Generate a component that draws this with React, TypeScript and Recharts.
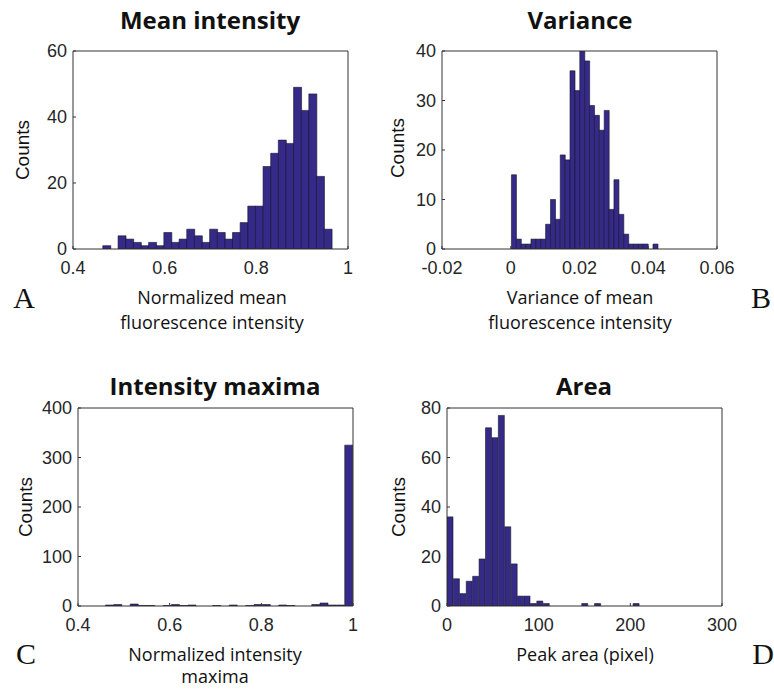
import React from 'react';
import { BarChart, Bar, XAxis, YAxis } from 'recharts';

// histogram counts, 30 bins each
const meanCounts = [1, 0, 4, 3, 2, 1, 2, 1, 5, 2, 3, 6, 4, 2, 6, 5, 3, 5, 8, 13, 13, 25, 29, 33, 32, 49, 42, 47, 22, 6];
const meanBinStart = 0.465;
const meanBinWidth = 0.01665;
const meanXTicks = [0.4, 0.6, 0.8, 1];
const meanYTicks = [0, 20, 40, 60];

const varCounts = [15, 2, 1, 1, 2, 2, 2, 5, 10, 6, 19, 18, 36, 32, 40, 38, 29, 27, 24, 28, 8, 14, 7, 3, 1, 1, 1, 1, 0, 1];
const varBinStart = 0.0002;
const varBinWidth = 0.00142;
const varXTicks = [-0.02, 0, 0.02, 0.04, 0.06];
const varYTicks = [0, 10, 20, 30, 40];

const maxCounts = [2, 3, 0, 4, 1, 1, 0, 1, 3, 1, 2, 0, 0, 1, 0, 2, 0, 1, 3, 3, 0, 2, 1, 0, 0, 3, 6, 2, 2, 325];
const maxBinStart = 0.46;
const maxBinWidth = 0.018;
const maxXTicks = [0.4, 0.6, 0.8, 1];
const maxYTicks = [0, 100, 200, 300, 400];

const areaCounts = [36, 11, 5, 10, 12, 19, 72, 68, 77, 32, 17, 4, 4, 1, 2, 1, 0, 0, 0, 0, 0, 1, 0, 1, 0, 0, 0, 0, 0, 1];
const areaBinStart = 0;
const areaBinWidth = 7;
const areaXTicks = [0, 100, 200, 300];
const areaYTicks = [0, 20, 40, 60, 80];

const toBins = (counts: number[], start: number, width: number) =>
    counts.map((c, i) => ({ x: start + (i + 0.5) * width, count: c }));

const AXIS = '#333333';
const BAR = '#352A87';
const tickFont = 'Liberation Sans, Arial, sans-serif';
const tickStyle = { fill: '#262626', fontSize: 18, fontFamily: tickFont };
const labelFont = "'Open Sans', 'Noto Sans', sans-serif";

interface PanelProps {
    data: { x: number, count: number }[],
    xTicks: number[],
    yTicks: number[],
    left: number,
    top: number
}

// MATLAB style box: ticks point inwards on all four sides
const Panel: React.FC<PanelProps> = ({ data, xTicks, yTicks, left, top }) => {
    const xDomain = [xTicks[0], xTicks[xTicks.length - 1]];
    const yDomain = [yTicks[0], yTicks[yTicks.length - 1]];
    return (
        <div style={{ position: 'absolute', left, top }}>
            <BarChart width={355} height={238} data={data} margin={{ top: 9, right: 29, left: 0, bottom: 0 }}
                barCategoryGap={0} barGap={0} style={{ overflow: 'visible' }}>
                <XAxis dataKey="x" type="number" domain={xDomain} ticks={xTicks} interval={0} allowDataOverflow
                    height={30} tickSize={-3} tickMargin={15} stroke={AXIS} tick={tickStyle} />
                <XAxis xAxisId="top" orientation="top" dataKey="x" type="number" domain={xDomain} ticks={xTicks}
                    interval={0} allowDataOverflow height={1} tick={false} tickSize={-3} stroke={AXIS} />
                <YAxis type="number" domain={yDomain} ticks={yTicks} interval={0} allowDataOverflow
                    width={50} tickSize={-3} tickMargin={9} stroke={AXIS} tick={tickStyle} />
                <YAxis yAxisId="right" orientation="right" type="number" domain={yDomain} ticks={yTicks}
                    interval={0} allowDataOverflow width={1} tick={false} tickSize={-3} stroke={AXIS} />
                <Bar dataKey="count" fill={BAR} stroke="#15152a" strokeWidth={0.6} isAnimationActive={false} />
            </BarChart>
        </div>
    );
};

const Txt: React.FC<{ x: number, y: number, size: number, bold?: boolean, font?: string, rotate?: boolean, children: React.ReactNode }> =
    ({ x, y, size, bold, font, rotate, children }) => (
        <div style={{
            position: 'absolute', left: x, top: y, whiteSpace: 'nowrap', fontSize: size, lineHeight: 1,
            fontWeight: bold ? 700 : 400, fontFamily: font || labelFont, color: '#111',
            transform: `translate(-50%, -50%)${rotate ? ' rotate(-90deg)' : ''}`
        }}>{children}</div>
    );

export default function App() {
    return (
        <div style={{ position: 'absolute', left: 0, top: 0, width: 774, height: 690, background: '#fff', overflow: 'hidden' }}>
            <Panel data={toBins(meanCounts, meanBinStart, meanBinWidth)} xTicks={meanXTicks} yTicks={meanYTicks} left={23} top={41} />
            <Panel data={toBins(varCounts, varBinStart, varBinWidth)} xTicks={varXTicks} yTicks={varYTicks} left={392} top={41} />
            <Panel data={toBins(maxCounts, maxBinStart, maxBinWidth)} xTicks={maxXTicks} yTicks={maxYTicks} left={28} top={398} />
            <Panel data={toBins(areaCounts, areaBinStart, areaBinWidth)} xTicks={areaXTicks} yTicks={areaYTicks} left={397} top={398} />

            <Txt x={210} y={20} size={24} bold>Mean intensity</Txt>
            <Txt x={580} y={20} size={24} bold>Variance</Txt>
            <Txt x={215} y={386} size={24} bold>Intensity maxima</Txt>
            <Txt x={584} y={386} size={24} bold>Area</Txt>

            <Txt x={22} y={150} size={19} rotate font={tickFont}>Counts</Txt>
            <Txt x={397} y={148} size={19} rotate font={tickFont}>Counts</Txt>
            <Txt x={25} y={507} size={19} rotate font={tickFont}>Counts</Txt>
            <Txt x={398} y={507} size={19} rotate font={tickFont}>Counts</Txt>

            <Txt x={212} y={297} size={18}>Normalized mean</Txt>
            <Txt x={212} y={322} size={18}>fluorescence intensity</Txt>
            <Txt x={580} y={297} size={18}>Variance of mean</Txt>
            <Txt x={580} y={322} size={18}>fluorescence intensity</Txt>
            <Txt x={215} y={654} size={18}>Normalized intensity</Txt>
            <Txt x={215} y={676} size={18}>maxima</Txt>
            <Txt x={585} y={654} size={18}>Peak area (pixel)</Txt>

            <Txt x={24} y={298} size={30} font="'Liberation Serif', serif">A</Txt>
            <Txt x={761} y={298} size={30} font="'Liberation Serif', serif">B</Txt>
            <Txt x={26} y={654} size={30} font="'Liberation Serif', serif">C</Txt>
            <Txt x={763} y={654} size={30} font="'Liberation Serif', serif">D</Txt>
        </div>
    );
}
